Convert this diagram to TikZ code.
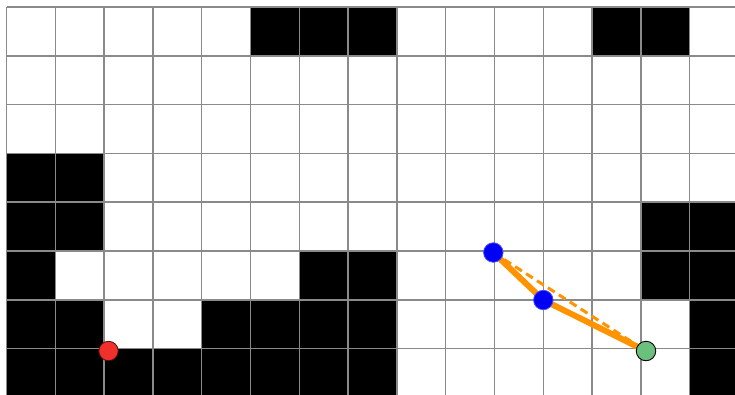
\documentclass[tikz,border=0pt]{standalone}
\definecolor{gridc}{HTML}{8A8A8A}
\definecolor{pathc}{HTML}{FF9400}
\definecolor{startc}{HTML}{F0302A}
\definecolor{goalc}{HTML}{6CC07E}
\definecolor{wayc}{HTML}{0000F5}
\begin{document}
\begin{tikzpicture}[x=1pt,y=-1pt,
  gridline/.style={draw=gridc,line width=1.5pt},
  obstacle/.style={fill=black},
  dot/.style={circle,inner sep=0pt,minimum size=19.5pt},
  startdot/.style={dot,fill=startc,draw=black!70!startc,line width=0.8pt},
  goaldot/.style={dot,fill=goalc,draw=black,line width=0.9pt},
  waydot/.style={dot,fill=wayc,draw=blue!70!white,line width=0.8pt},
  pathline/.style={draw=pathc,line width=6pt},
  shortcut/.style={draw=pathc,line width=3pt,dash pattern=on 8pt off 5pt}]
\useasboundingbox (0,0) rectangle (735,394);
\begin{scope}
\clip (0,0) rectangle (735,394);
\fill[white] (0,0) rectangle (735,394);
\foreach \c/\r in {5/0,6/0,7/0,12/0,13/0,
                   0/3,1/3,
                   0/4,1/4,13/4,14/4,
                   0/5,6/5,7/5,13/5,14/5,
                   0/6,1/6,4/6,5/6,6/6,7/6,14/6,
                   0/7,1/7,2/7,3/7,4/7,5/7,6/7,7/7,14/7}
  \fill[obstacle] (6.5+\c*48.8,7+\r*48.8) rectangle ++(48.8,48.8);
\foreach \i in {0,...,15}
  \draw[gridline] (6.5+\i*48.8,7) -- (6.5+\i*48.8,400);
\foreach \j in {0,...,8}
  \draw[gridline] (6.5,7+\j*48.8) -- (745,7+\j*48.8);
\end{scope}
\coordinate (w1) at (493.3,252.5);
\coordinate (w2) at (543.3,300);
\coordinate (gp) at (646,351);
\draw[shortcut] (w1) -- (gp);
\draw[pathline] (w1) -- (w2) -- (gp);
\node[startdot] (s) at (108.5,351) {};
\node[goaldot] (g) at (gp) {};
\node[waydot] (a) at (w1) {};
\node[waydot] (b) at (w2) {};
\end{tikzpicture}
\end{document}
